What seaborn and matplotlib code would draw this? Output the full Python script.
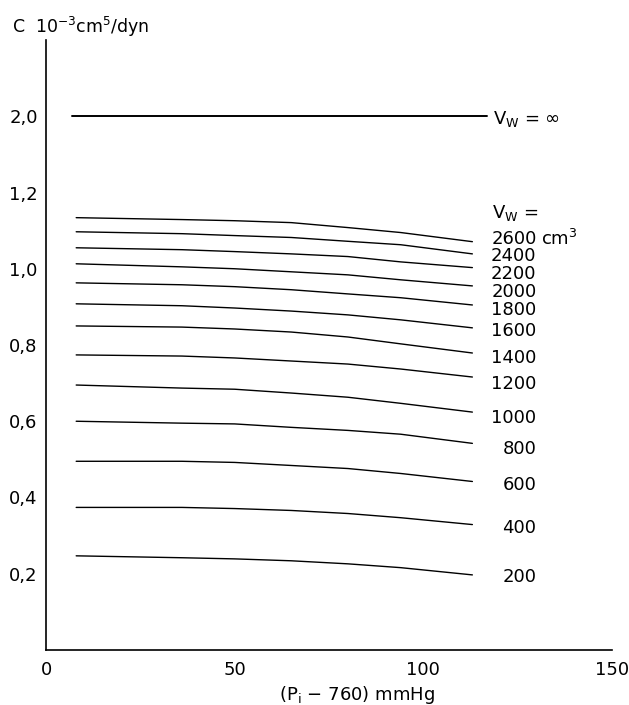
import matplotlib
matplotlib.use("Agg")
import matplotlib.pyplot as plt
import pandas as pd
import seaborn as sns

# pressure above 760 mmHg where each curve was read
pressure = [8, 36, 50, 65, 80, 94, 113]

# compliance C (10^-3 cm^5/dyn) for each water volume Vw (cm^3)
volumes = [2600, 2400, 2200, 2000, 1800, 1600, 1400, 1200, 1000, 800, 600, 400, 200]
c_2600 = [1.134, 1.129, 1.126, 1.121, 1.108, 1.095, 1.071]
c_2400 = [1.097, 1.092, 1.087, 1.082, 1.072, 1.063, 1.039]
c_2200 = [1.055, 1.050, 1.045, 1.039, 1.032, 1.018, 1.003]
c_2000 = [1.013, 1.005, 1.000, 0.992, 0.984, 0.971, 0.955]
c_1800 = [0.963, 0.958, 0.953, 0.945, 0.934, 0.924, 0.905]
c_1600 = [0.908, 0.903, 0.897, 0.889, 0.879, 0.866, 0.845]
c_1400 = [0.850, 0.847, 0.842, 0.834, 0.821, 0.803, 0.779]
c_1200 = [0.774, 0.771, 0.766, 0.758, 0.750, 0.737, 0.716]
c_1000 = [0.695, 0.687, 0.684, 0.674, 0.663, 0.647, 0.624]
c_800 = [0.600, 0.595, 0.593, 0.584, 0.576, 0.566, 0.542]
c_600 = [0.495, 0.495, 0.492, 0.484, 0.476, 0.463, 0.442]
c_400 = [0.374, 0.374, 0.371, 0.366, 0.358, 0.347, 0.329]
c_200 = [0.247, 0.242, 0.239, 0.234, 0.226, 0.216, 0.197]
curves = [c_2600, c_2400, c_2200, c_2000, c_1800, c_1600, c_1400,
          c_1200, c_1000, c_800, c_600, c_400, c_200]

# Vw = infinity line: C = 2.0, drawn on a broken axis at the 1.4 slot
inf_pressure = [7, 117]
inf_value = 2.0
inf_slot = 1.4

yticks = [0.2, 0.4, 0.6, 0.8, 1.0, 1.2, 1.4, 1.6]
ytick_labels = ["0,2", "0,4", "0,6", "0,8", "1,0", "1,2", "2,0", ""]
xticks = [0, 50, 100, 150]

rows = []
for v, c in zip(volumes, curves):
    for p, val in zip(pressure, c):
        rows.append({"p": p, "C": val, "Vw": v})
df = pd.DataFrame(rows)

sns.set_style("white")
plt.rcParams["font.family"] = ["DejaVu Sans"]
plt.rcParams["mathtext.default"] = "regular"
plt.rcParams["text.color"] = "black"

fig = plt.figure(figsize=(6.29, 7.05), dpi=100)
ax = fig.add_axes([46 / 629, 1 - 650 / 705, (612 - 46) / 629, (650 - 40) / 705])

sns.lineplot(data=df, x="p", y="C", units="Vw", estimator=None,
             color="black", linewidth=1.0, ax=ax)
sns.lineplot(x=inf_pressure, y=[inf_slot, inf_slot], color="black",
             linewidth=1.4, ax=ax)

ax.set_xlim(0, 150)
ax.set_ylim(0, 1.6)
ax.set_xticks(xticks)
ax.set_xticklabels([str(t) for t in xticks])
ax.set_yticks(yticks)
ax.set_yticklabels(ytick_labels)
ax.tick_params(axis="both", direction="out", length=5, width=1,
               labelsize=13, colors="black", pad=1)
ax.tick_params(axis="x", pad=3)
for s in ["top", "right"]:
    ax.spines[s].set_visible(False)
for s in ["left", "bottom"]:
    ax.spines[s].set_color("black")
    ax.spines[s].set_linewidth(1.2)
ax.set_xlabel("")
ax.set_ylabel("")

# curve labels, nudged apart where the curve ends crowd together
label_y = [1.084, 1.039, 0.992, 0.945, 0.897, 0.842, 0.771,
           0.703, 0.613, 0.532, 0.439, 0.326, 0.197]
lab_kw = dict(fontsize=13, color="black")
ax.text(118.5, inf_slot, r"V$_W$ = ∞", ha="left", va="center_baseline", **lab_kw)
ax.text(118.3, 1.152, r"V$_W$ =", ha="left", va="center_baseline", **lab_kw)
for v, ly in zip(volumes, label_y):
    ax.text(130, ly, str(v), ha="right", va="center_baseline", **lab_kw)
ax.text(131.2, label_y[0], r"cm$^3$", ha="left", va="center_baseline", **lab_kw)

fig.text(12 / 629, 1 - 24 / 705, r"C  10$^{-3}$cm$^5$/dyn", fontsize=12.5,
         ha="left", va="center_baseline")
fig.text(357 / 629, 1 - 692 / 705, r"(P$_i$ − 760) mmHg", fontsize=13,
         ha="center", va="center_baseline")

fig.savefig("out.png", dpi=100)
